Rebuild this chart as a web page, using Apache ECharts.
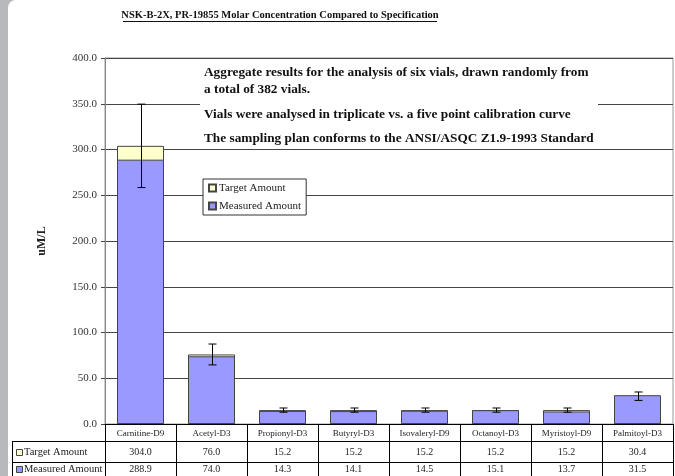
<!DOCTYPE html>
<html>
<head>
<meta charset="utf-8">
<script src="https://cdn.jsdelivr.net/npm/echarts@6/dist/echarts.min.js"></script>
<style>
html,body{margin:0;padding:0;background:#fff;}
#chart{width:675px;height:476px;}
</style>
</head>
<body>
<div id="chart"></div>
<script>
// data
var categories = ['Carnitine-D9','Acetyl-D3','Propionyl-D3','Butyryl-D3','Isovaleryl-D9','Octanoyl-D3','Myristoyl-D9','Palmitoyl-D3'];
var targetAmount = [304.0, 76.0, 15.2, 15.2, 15.2, 15.2, 15.2, 30.4];
var measuredAmount = [288.9, 74.0, 14.3, 14.1, 14.5, 15.1, 13.7, 31.5];
// error bar ends (low / high)
var errLow = [258.4, 64.6, 12.9, 12.9, 12.9, 12.9, 12.9, 25.8];
var errHigh = [349.6, 87.4, 17.5, 17.5, 17.5, 17.5, 17.5, 35.0];
var noteLines = [
    'Aggregate results for the analysis of six vials, drawn randomly from',
    'a total of 382 vials.',
    'Vials were analysed in triplicate vs. a five point calibration curve',
    'The sampling plan conforms to the ANSI/ASQC Z1.9-1993 Standard'
];

var serif = '"Liberation Serif", "DejaVu Serif", serif';
var yellow = '#FFFFCC';
var blue = '#9999FF';

var errData = [];
for (var i = 0; i < categories.length; i++) {
    errData.push([i, errLow[i], errHigh[i]]);
}

var chart = echarts.init(document.getElementById('chart'));

var option = {
    animation: false,
    backgroundColor: '#fff',
    grid: {
        left: 105, right: 2, top: 58, bottom: 52,
        show: true, borderColor: '#999', borderWidth: 1, backgroundColor: '#fff'
    },
    legend: {
        data: ['Target Amount', 'Measured Amount'],
        orient: 'vertical',
        left: 203, top: 179,
        padding: [2, 5],
        itemGap: 4,
        itemWidth: 7, itemHeight: 7,
        icon: 'rect',
        borderColor: '#333', borderWidth: 1,
        backgroundColor: '#fff',
        textStyle: { fontFamily: serif, fontSize: 11, color: '#222', lineHeight: 14, padding: [0, 0, 0, -2] }
    },
    xAxis: [
        {
            type: 'category', data: categories, position: 'bottom',
            axisLine: { lineStyle: { color: '#000', width: 1 } },
            axisTick: { show: true, length: 52, lineStyle: { color: '#000' } },
            axisLabel: { margin: 5, interval: 0, fontFamily: serif, fontSize: 9, color: '#222' }
        },
        {
            type: 'category', data: categories, position: 'bottom', offset: 17,
            axisLine: { lineStyle: { color: '#000', width: 1 } },
            axisTick: { show: false },
            axisLabel: {
                margin: 6, interval: 0, fontFamily: serif, fontSize: 10, color: '#222',
                formatter: function (v, idx) { return targetAmount[idx].toFixed(1); }
            }
        },
        {
            type: 'category', data: categories, position: 'bottom', offset: 38,
            axisLine: { lineStyle: { color: '#000', width: 1 } },
            axisTick: { show: false },
            axisLabel: {
                margin: 2, interval: 0, fontFamily: serif, fontSize: 10, color: '#222',
                formatter: function (v, idx) { return measuredAmount[idx].toFixed(1); }
            }
        }
    ],
    yAxis: {
        type: 'value', min: 0, max: 400, interval: 50,
        name: 'uM/L', nameLocation: 'middle', nameGap: 57, nameRotate: 90,
        nameTextStyle: { fontFamily: serif, fontSize: 12, fontWeight: 'bold', color: '#222' },
        axisLine: { show: true, lineStyle: { color: '#888' } },
        axisTick: { show: true, length: 4, lineStyle: { color: '#444' } },
        axisLabel: {
            margin: 8, fontFamily: serif, fontSize: 11, color: '#333',
            formatter: function (v) { return v.toFixed(1); }
        },
        splitLine: { lineStyle: { color: '#444', width: 1 } }
    },
    series: [
        {
            name: 'Target Amount', type: 'bar', xAxisIndex: 0,
            data: targetAmount, barWidth: 47, barGap: '-100%',
            itemStyle: { color: yellow, borderColor: '#444', borderWidth: 1 }
        },
        {
            name: 'Measured Amount', type: 'bar', xAxisIndex: 0,
            data: measuredAmount, barWidth: 47, barGap: '-100%',
            itemStyle: { color: blue, borderColor: '#444', borderWidth: 1 }
        },
        {
            name: 'err', type: 'custom', xAxisIndex: 0, z: 5,
            data: errData,
            renderItem: function (params, api) {
                var x = api.value(0);
                var lo = api.coord([x, api.value(1)]);
                var hi = api.coord([x, api.value(2)]);
                var cx = Math.round(lo[0]) + 0.5;
                var w = 4;
                var st = { stroke: '#000', lineWidth: 1 };
                return {
                    type: 'group',
                    children: [
                        { type: 'line', shape: { x1: cx, y1: hi[1], x2: cx, y2: lo[1] }, style: st },
                        { type: 'line', shape: { x1: cx - w, y1: hi[1], x2: cx + w, y2: hi[1] }, style: st },
                        { type: 'line', shape: { x1: cx - w, y1: lo[1], x2: cx + w, y2: lo[1] }, style: st }
                    ]
                };
            }
        }
    ],
    graphic: []
};

var g = option.graphic;
// left grey strip with rounded corner
g.push({ type: 'rect', z: 100, shape: { x: 0, y: 0, width: 14, height: 476 }, style: { fill: '#B8B9BD' } });
g.push({ type: 'rect', z: 101, shape: { x: 8, y: 0, width: 10, height: 476, r: [8, 0, 0, 0] }, style: { fill: '#fff' } });

// title
g.push({
    type: 'text', z: 110, x: 280, y: 15,
    style: { text: 'NSK-B-2X, PR-19855 Molar Concentration Compared to Specification', font: 'bold 10.5px ' + serif, fill: '#111', align: 'center', verticalAlign: 'middle' }
});
g.push({ type: 'line', z: 110, shape: { x1: 123, y1: 21.5, x2: 437, y2: 21.5 }, style: { stroke: '#111', lineWidth: 1 } });

// note box
g.push({ type: 'rect', z: 100, shape: { x: 200, y: 60, width: 398, height: 86 }, style: { fill: '#fff' } });
var noteY = [73, 90, 115, 139];
for (var k = 0; k < noteLines.length; k++) {
    g.push({
        type: 'text', z: 110, x: 204, y: noteY[k],
        style: { text: noteLines[k], font: 'bold 13.3px ' + serif, fill: '#111', verticalAlign: 'middle' }
    });
}

// table row headers
var ln = { stroke: '#000', lineWidth: 1 };
g.push({ type: 'line', z: 110, shape: { x1: 12, y1: 441.5, x2: 105, y2: 441.5 }, style: ln });
g.push({ type: 'line', z: 110, shape: { x1: 12, y1: 462.5, x2: 105, y2: 462.5 }, style: ln });
g.push({ type: 'line', z: 110, shape: { x1: 12.5, y1: 441, x2: 12.5, y2: 476 }, style: ln });
g.push({ type: 'rect', z: 110, shape: { x: 16.5, y: 449.5, width: 6, height: 6 }, style: { fill: yellow, stroke: '#444', lineWidth: 1 } });
g.push({ type: 'text', z: 110, x: 24, y: 452.5, style: { text: 'Target Amount', font: '10.5px ' + serif, fill: '#222', verticalAlign: 'middle' } });
g.push({ type: 'rect', z: 110, shape: { x: 16.5, y: 466.5, width: 6, height: 6 }, style: { fill: blue, stroke: '#444', lineWidth: 1 } });
g.push({ type: 'text', z: 110, x: 24, y: 469.5, style: { text: 'Measured Amount', font: '10.5px ' + serif, fill: '#222', verticalAlign: 'middle' } });

chart.setOption(option);
</script>
</body>
</html>
